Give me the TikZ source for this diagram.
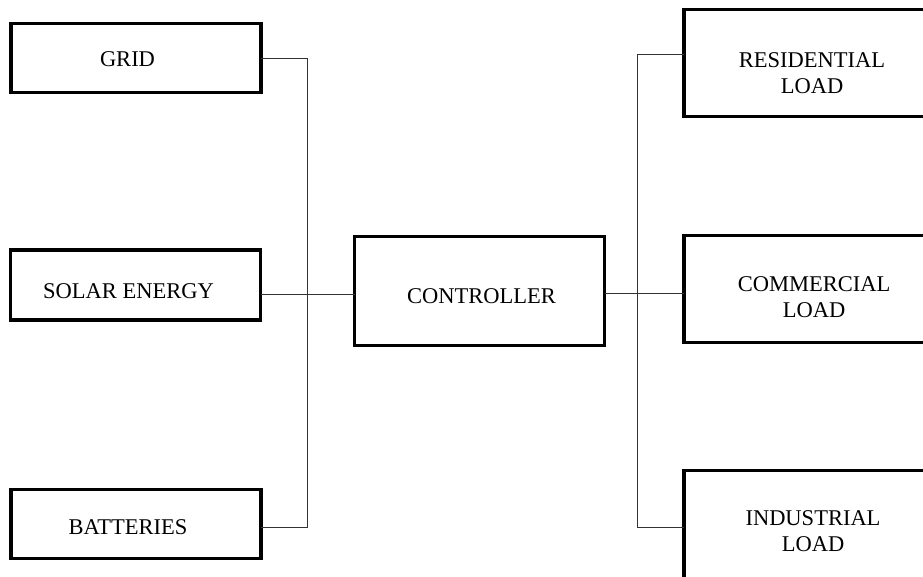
\documentclass[tikz,border=0pt]{standalone}
\usepackage{fontspec}
\setmainfont{Liberation Serif}
\begin{document}
\begin{tikzpicture}[x=1pt,y=-1pt,
  blk/.style={draw, line width=3.2pt, rectangle, outer sep=0pt, inner sep=0pt, minimum width=250pt},
  lbl/.style={inner sep=0pt, align=center, font=\fontsize{22.5}{26}\selectfont},
  conn/.style={line width=0.9pt, draw=black!80}]
\useasboundingbox (0,0) rectangle (923,576);
\begin{scope}
\clip (0,0) rectangle (923,576);
% boxes
\node[blk, minimum height=69pt] (grid) at (136,58) {};
\node[blk, minimum height=70pt] (solar) at (135.5,285) {};
\node[blk, minimum height=69pt] (batt) at (136,524) {};
\node[blk, minimum height=109pt] (ctrl) at (479.5,291) {};
\node[blk, minimum height=107pt] (res) at (809,63) {};
\node[blk, minimum height=107pt] (comm) at (809,289) {};
\node[blk, minimum height=112pt] (ind) at (809,526.5) {};
% texts
\node[lbl] (tgrid) at (127.5,59.5) {GRID};
\node[lbl] (tsolar) at (128.5,291) {SOLAR ENERGY};
\node[lbl] (tbatt) at (128,527.5) {BATTERIES};
\node[lbl] (tctrl) at (481.5,296) {CONTROLLER};
\node[lbl] (tres) at (812,73) {RESIDENTIAL\\LOAD};
\node[lbl] (tcomm) at (814,297.5) {COMMERCIAL\\LOAD};
\node[lbl] (tind) at (813,531.5) {INDUSTRIAL\\LOAD};
% junctions
\coordinate (lt) at (307,58);
\coordinate (lm) at (307,294);
\coordinate (lb) at (307,527);
\coordinate (rt) at (637,54);
\coordinate (rm) at (637,293);
\coordinate (rb) at (637,527);
% connectors
\draw[conn] (grid.east |- lt) -- (lt) -- (lb) -- (batt.east |- lb);
\draw[conn] (solar.east |- lm) -- (ctrl.west |- lm);
\draw[conn] (ctrl.east |- rm) -- (comm.west |- rm);
\draw[conn] (res.west |- rt) -- (rt) -- (rb) -- (ind.west |- rb);
\end{scope}
\end{tikzpicture}
\end{document}
